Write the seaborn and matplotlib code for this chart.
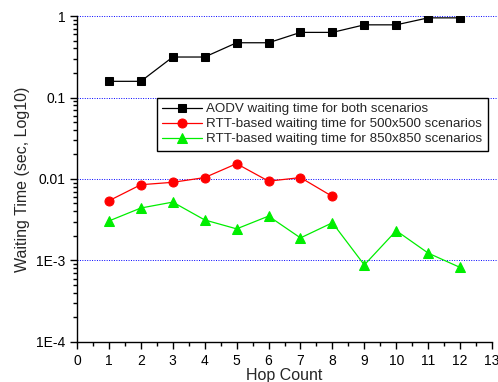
import seaborn as sns
import matplotlib.pyplot as plt
from matplotlib.ticker import MultipleLocator, LogLocator, FixedFormatter, FixedLocator

# data
hops_aodv = [1, 2, 3, 4, 5, 6, 7, 8, 9, 10, 11, 12]
aodv = [0.158, 0.158, 0.314, 0.314, 0.47, 0.47, 0.63, 0.63, 0.78, 0.78, 0.95, 0.95]

hops_500 = [1, 2, 3, 4, 5, 6, 7, 8]
rtt_500 = [0.0054, 0.0085, 0.0091, 0.0104, 0.0154, 0.0094, 0.0104, 0.0061]

hops_850 = [1, 2, 3, 4, 5, 6, 7, 8, 9, 10, 11, 12]
rtt_850 = [0.00305, 0.0044, 0.0052, 0.00314, 0.00244, 0.0035, 0.00189, 0.0029,
           0.00088, 0.00232, 0.00123, 0.00082]

y_ticks = [1e-4, 1e-3, 1e-2, 1e-1, 1]
y_labels = ["1E-4", "1E-3", "0.01", "0.1", "1"]

sns.set_style("ticks")
plt.rcParams['font.family'] = ['Liberation Sans', 'DejaVu Sans']

fig = plt.figure(figsize=(4.98, 3.82), dpi=100)
ax = fig.add_axes([0.1546, 0.105, 0.8334, 0.853])

sns.lineplot(x=hops_aodv, y=aodv, color="black", marker="s", markersize=6,
             markeredgecolor="black", linewidth=0.9,
             label="AODV waiting time for both scenarios", ax=ax)
sns.lineplot(x=hops_500, y=rtt_500, color="red", marker="o", markersize=6.5,
             markeredgecolor="red", linewidth=0.9,
             label="RTT-based waiting time for 500x500 scenarios", ax=ax)
sns.lineplot(x=hops_850, y=rtt_850, color="#00ee00", marker="^", markersize=7,
             markeredgecolor="#00ee00", linewidth=0.9,
             label="RTT-based waiting time for 850x850 scenarios", ax=ax)

ax.set_yscale("log")
ax.set_ylim(1e-4, 1)
ax.set_xlim(0, 13)
ax.xaxis.set_major_locator(MultipleLocator(1))
ax.xaxis.set_minor_locator(MultipleLocator(0.5))
ax.yaxis.set_major_locator(FixedLocator(y_ticks))
ax.yaxis.set_major_formatter(FixedFormatter(y_labels))
ax.yaxis.set_minor_locator(LogLocator(base=10, subs=range(2, 10)))

# dotted blue lines at each decade, running to the figure edge
for y in y_ticks[1:]:
    ax.plot([0, 13.2], [y, y], color="blue", linestyle=(0, (1, 1.5)),
            linewidth=0.7, zorder=0, clip_on=False)

sns.despine(ax=ax)
ax.tick_params(axis="both", which="major", direction="out", length=5, width=1,
               labelsize=10, color="black", labelcolor="black")
ax.tick_params(axis="both", which="minor", direction="out", length=3, width=1,
               color="black")
for s in ["left", "bottom"]:
    ax.spines[s].set_color("black")
    ax.spines[s].set_linewidth(1)

ax.set_xlabel("Hop Count", fontsize=11.5, labelpad=0)
ax.set_ylabel("Waiting Time (sec, Log10)", fontsize=11.5, labelpad=4)

leg = ax.legend(loc="upper left", bbox_to_anchor=(0.193, 0.75), fontsize=9.6,
                frameon=True, fancybox=False, framealpha=1, edgecolor="black",
                handlelength=3, borderpad=0.4, labelspacing=0.2,
                handletextpad=0.3, borderaxespad=0)
leg.get_frame().set_linewidth(1)
leg.set_zorder(5)

plt.savefig("out.png", dpi=100)
